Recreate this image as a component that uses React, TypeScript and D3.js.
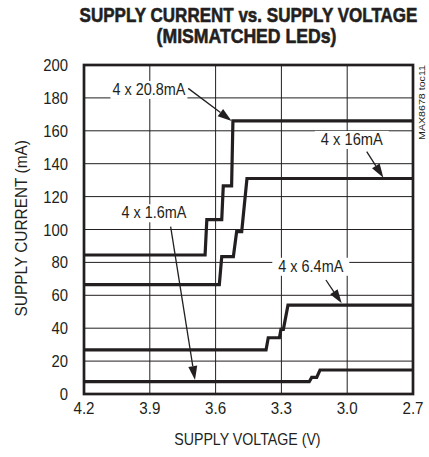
import React, { useEffect, useRef } from "react";
import * as d3 from "d3";

const xTicks = [4.2, 3.9, 3.6, 3.3, 3.0, 2.7];
const yTicks = [0, 20, 40, 60, 80, 100, 120, 140, 160, 180, 200];

const v208 = [4.2, 3.648, 3.64, 3.572, 3.565, 3.527, 3.521, 2.7];
const i208 = [84.5, 84.5, 106, 106, 126.5, 126.5, 166, 166];
const v16 = [4.2, 3.583, 3.572, 3.519, 3.504, 3.481, 3.457, 2.7];
const i16 = [66.5, 66.5, 83.5, 83.5, 98.7, 98.7, 131, 131];
const v64 = [4.2, 3.37, 3.36, 3.309, 3.302, 3.291, 3.27, 2.7];
const i64 = [26.8, 26.8, 34.2, 34.2, 39.3, 39.3, 54, 54];
const v1p6 = [4.2, 3.173, 3.162, 3.139, 3.124, 2.7];
const i1p6 = [7.5, 7.5, 10.1, 10.1, 14.6, 14.6];

const seriesV = [v208, v16, v64, v1p6];
const seriesI = [i208, i16, i64, i1p6];

const labels = ["4 x 20.8mA", "4 x 16mA", "4 x 1.6mA", "4 x 6.4mA"];
const labelV = [3.904, 2.979, 3.881, 3.166];
const labelI = [181.8, 151.4, 106.8, 74.3];
const arrowFromV = [3.725, 2.911, 3.805, 3.097];
const arrowFromI = [185.8, 147.3, 101.7, 69.3];
const arrowToV = [3.527, 2.835, 3.694, 3.025];
const arrowToI = [166, 131.5, 8.5, 55.1];

const W = 429;
const H = 457;
const FONT = "'Liberation Sans', Arial, Helvetica, sans-serif";
const INK = "#231f20";

type Sel = d3.Selection<any, any, any, any>;

function addText(
  parent: Sel,
  x: number,
  y: number,
  txt: string,
  size: number,
  anchor: string,
  opts: { width?: number; scale?: number; rotate?: number; bold?: boolean } = {}
) {
  const g = parent.append("g");
  const t = g.append("text").attr("x", 0).attr("y", 0).attr("text-anchor", anchor)
    .attr("font-family", FONT).attr("font-size", size).attr("fill", INK).text(txt);
  if (opts.bold) t.attr("font-weight", "bold").attr("stroke", INK).attr("stroke-width", 0.6);
  let s = opts.scale ?? 1;
  if (opts.width) {
    const n = (t.node() as SVGTextElement).getComputedTextLength();
    if (n > 0) s = opts.width / n;
  }
  g.attr("transform", `translate(${x},${y}) rotate(${opts.rotate ?? 0}) scale(${s},1)`);
  return g;
}

export default function App() {
  const ref = useRef<SVGSVGElement>(null);
  useEffect(() => {
    const svg = d3.select(ref.current);
    svg.selectAll("*").remove();
    const x = d3.scaleLinear().domain([4.2, 2.7]).range([84, 413]);
    const y = d3.scaleLinear().domain([0, 200]).range([394, 65]);

    // title
    addText(svg, 248.5, 22, "SUPPLY CURRENT vs. SUPPLY VOLTAGE", 20.5, "middle", { width: 338, bold: true });
    addText(svg, 246.5, 42.5, "(MISMATCHED LEDs)", 20.5, "middle", { width: 180, bold: true });

    // grid
    const g = svg.append("g");
    g.selectAll("line.h").data(yTicks.slice(1, -1)).enter().append("line")
      .attr("x1", x(4.2)).attr("x2", x(2.7)).attr("y1", (d) => y(d)).attr("y2", (d) => y(d))
      .attr("stroke", INK).attr("stroke-width", 1);
    g.selectAll("line.v").data(xTicks.slice(1, -1)).enter().append("line")
      .attr("y1", y(0)).attr("y2", y(200)).attr("x1", (d) => x(d)).attr("x2", (d) => x(d))
      .attr("stroke", INK).attr("stroke-width", 1);

    // tick labels
    yTicks.forEach((d) => addText(svg, 68, y(d) + 6, String(d), 16.5, "end", { scale: 0.9 }));
    xTicks.forEach((d) => addText(svg, x(d), 413.5, d.toFixed(1), 16.5, "middle", { scale: 0.92 }));

    // axis titles
    addText(svg, 247.4, 445, "SUPPLY VOLTAGE (V)", 16.5, "middle", { width: 146.5 });
    addText(svg, 27, 228.3, "SUPPLY CURRENT (mA)", 16.5, "middle", { width: 176.5, rotate: -90 });
    addText(svg, 425, 102.5, "MAX8678 toc11", 9.5, "middle", { width: 75, rotate: -90 });

    // lines
    const line = d3.line<[number, number]>().x((d) => x(d[0])).y((d) => y(d[1]));
    seriesV.forEach((vs, k) => {
      const pts: [number, number][] = vs.map((v, j) => [v, seriesI[k][j]]);
      svg.append("path").attr("d", line(pts)).attr("fill", "none")
        .attr("stroke", INK).attr("stroke-width", 3.2).attr("stroke-linejoin", "miter");
    });

    // annotations
    const widths = [73, 62, 65, 65];
    const pads = [2, 6, 4, 6];
    labels.forEach((t, k) => {
      const cx = x(labelV[k]);
      const by = y(labelI[k]);
      svg.append("rect").attr("x", cx - widths[k] / 2 - pads[k]).attr("y", by - 14)
        .attr("width", widths[k] + 2 * pads[k]).attr("height", 18).attr("fill", "white");
      addText(svg, cx, by, t, 16, "middle", { width: widths[k] });
      const x1 = x(arrowFromV[k]), y1 = y(arrowFromI[k]);
      const x2 = x(arrowToV[k]), y2 = y(arrowToI[k]);
      const ang = Math.atan2(y2 - y1, x2 - x1);
      const L = 14, Wd = 4.5;
      const bx = x2 - L * Math.cos(ang), bY = y2 - L * Math.sin(ang);
      svg.append("line").attr("x1", x1).attr("y1", y1).attr("x2", bx).attr("y2", bY)
        .attr("stroke", INK).attr("stroke-width", 1.3);
      const px = -Math.sin(ang), py = Math.cos(ang);
      svg.append("polygon").attr("points", [
        [x2, y2], [bx + px * Wd, bY + py * Wd], [bx - px * Wd, bY - py * Wd]
      ].map((p) => p.join(",")).join(" ")).attr("fill", INK);
    });

    // frame
    svg.append("rect").attr("x", x(4.2)).attr("y", y(200)).attr("width", x(2.7) - x(4.2))
      .attr("height", y(0) - y(200)).attr("fill", "none").attr("stroke", INK).attr("stroke-width", 2.7);
  }, []);
  return (
    <svg ref={ref} width={W} height={H} style={{ position: "absolute", left: 0, top: 0, background: "white" }} />
  );
}
